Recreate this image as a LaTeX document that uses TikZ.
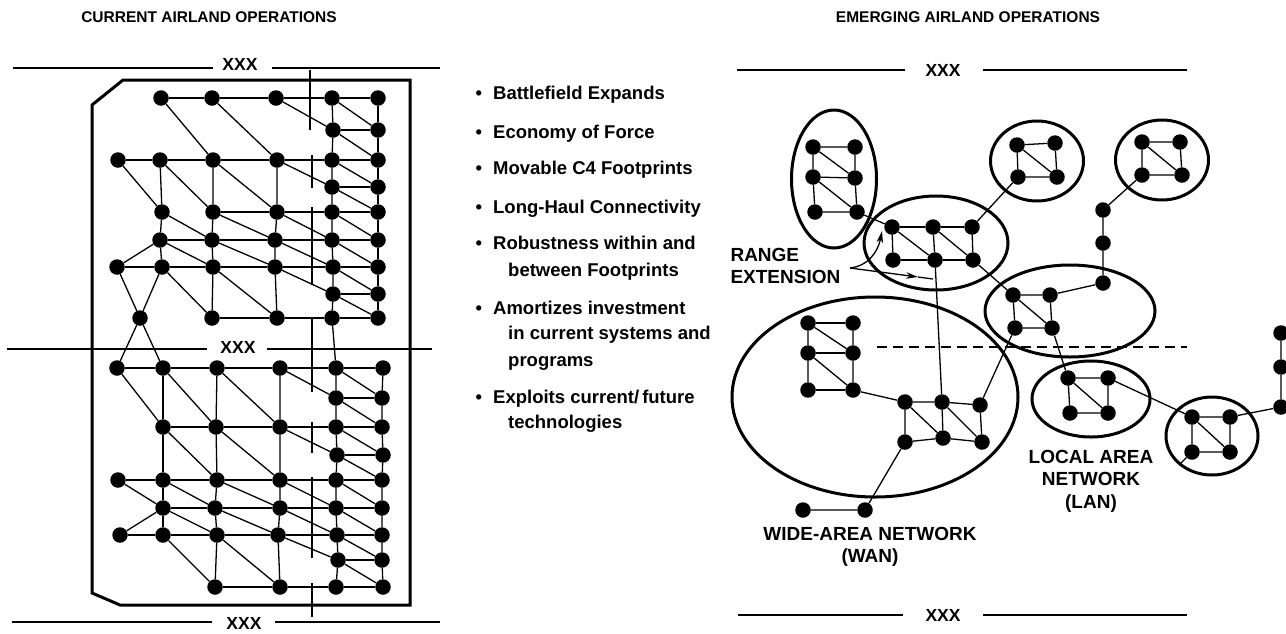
\documentclass[tikz,border=0pt]{standalone}
\usepackage{fontspec}
\setmainfont{Liberation Sans}
\usetikzlibrary{shapes,arrows,arrows.meta,positioning,calc}
\tikzset{
	dot/.style = {
		fill, 
		circle, 
		minimum size=15.5pt, 
		inner sep=0pt
	},
	link/.style = {
		line width=1.3pt
	},
	ring/.style = {
		draw, 
		ellipse, 
		line width=3pt, 
		inner sep=0pt
	},
	frame/.style = {
		line width=3pt, 
		line join=miter
	},
	boundary/.style = {
		line width=1.2pt
	},
	phaseline/.style = {
		line width=2pt, 
		dash pattern=on 10pt off 6pt
	},
	pointer/.style = {
		-{Stealth[length=12pt, width=6.5pt]}, 
		line width=1.3pt
	},
	title/.style = {
		font=\fontsize{15.5}{18}\selectfont\bfseries
	},
	xxx/.style = {
		font=\fontsize{17.5}{20}\selectfont\bfseries
	},
	item/.style = {
		font=\fontsize{18.5}{22}\selectfont\bfseries, 
		anchor=base west, 
		inner sep=0pt
	},
	callout/.style = {
		font=\fontsize{19}{22.5}\selectfont\bfseries, 
		align=center
	}
}

\begin{document}
\begin{tikzpicture}[x=1pt, y=-1pt]
	
	% --- Fondo ---
	\path [use as bounding box, fill=white] (0,0) rectangle (1286,633);
	
	% --- TÍTULOS ---
	\node [title] (curtitle) at (209,17) {CURRENT AIRLAND OPERATIONS};
	\node [title] (emetitle) at (968,17) {EMERGING AIRLAND OPERATIONS};
	
	% --- Límites XXX (lado izquierdo) ---
	\node [xxx] (xxxtop) at (240,64) {XXX};
	\draw [boundary] (13,68) -- (213,68) (272,68) -- (440,68);
	\node [xxx] (xxxmid) at (238,347) {XXX};
	\draw [boundary] (7,349) -- (207,349) (267,349) -- (432,349);
	\node [xxx] (xxxbot) at (244,623) {XXX};
	\draw [boundary] (12,622) -- (212,622) (275,622) -- (440,622);
	
	% Límite vertical cortado
	\foreach \ya/\yb/\xv in {70/130/310, 155/188/312, 207/285/312, 318/392/312,
		422/453/312, 477/558/312, 583/617/312}
		\draw [boundary] (\xv,\ya) -- (\xv,\yb);
	
	% Marco grueso del sector
	\draw [frame] (92,105) -- (123,80) -- (410,80) -- (410,605) -- (120,605) -- (92,593) -- cycle;
	
	% --- Malla actual (mitad superior) ---
	\foreach \c/\x in {2/161,3/212,4/276,5/332,6/378} \node [dot] (a\c) at (\x,98) {};
	\foreach \c/\x in {5/333,6/378} \node [dot] (b\c) at (\x,130) {};
	\foreach \c/\x in {1/118,2/160,3/213,4/277,5/332,6/378} \node [dot] (c\c) at (\x,160) {};
	\foreach \c/\x in {5/332,6/378} \node [dot] (d\c) at (\x,187) {};
	\foreach \c/\x in {2/162,3/213,4/277,5/332,6/378} \node [dot] (e\c) at (\x,212) {};
	\foreach \c/\x in {2/160,3/212,4/275,5/332,6/378} \node [dot] (f\c) at (\x,240) {};
	\foreach \c/\x in {1/117,2/162,3/213,4/275,5/333,6/378} \node [dot] (g\c) at (\x,267) {};
	\foreach \c/\x in {5/333,6/378} \node [dot] (h\c) at (\x,294) {};
	\foreach \c/\x in {3/212,4/277,5/332,6/378} \node [dot] (i\c) at (\x,318) {};
	\node [dot] (mid) at (140,318) {};
	
	% --- Malla actual (mitad inferior) ---
	\foreach \c/\x in {1/117,2/163,3/217,4/280,5/336,6/383} \node [dot] (j\c) at (\x,368) {};
	\foreach \c/\x in {5/336,6/382} \node [dot] (k\c) at (\x,398) {};
	\foreach \c/\x in {2/163,3/216,4/280,5/336,6/382} \node [dot] (l\c) at (\x,427) {};
	\foreach \c/\x in {5/337,6/383} \node [dot] (m\c) at (\x,455) {};
	\foreach \c/\x in {1/118,2/163,3/217,4/280,5/336,6/382} \node [dot] (n\c) at (\x,480) {};
	\foreach \c/\x in {2/163,3/215,4/280,5/336,6/382} \node [dot] (o\c) at (\x,508) {};
	\foreach \c/\x in {1/120,2/163,3/217,4/278,5/337,6/382} \node [dot] (p\c) at (\x,535) {};
	\foreach \c/\x in {5/338,6/382} \node [dot] (q\c) at (\x,560) {};
	\foreach \c/\x in {3/215,4/280,5/336,6/383} \node [dot] (r\c) at (\x,587) {};
	
	% Enlaces horizontales
	\draw [link] (a2) -- (a3) -- (a4) -- (a5) -- (a6);
	\draw [link] (c1) -- (c2) -- (c3) -- (c4) -- (c5) -- (c6);
	\draw [link] (e3) -- (e4) -- (e5) -- (e6);
	\draw [link] (f2) -- (f3) -- (f4) -- (f5) -- (f6);
	\draw [link] (g1) -- (g2) -- (g3) -- (g4) -- (g5) -- (g6);
	\draw [link] (i3) -- (i4) -- (i5) -- (i6);
	\draw [link] (j1) -- (j2) -- (j3) -- (j4) -- (j5) -- (j6);
	\draw [link] (l2) -- (l3) -- (l4) -- (l5) -- (l6);
	\draw [link] (n1) -- (n2) -- (n3) -- (n4) -- (n5) -- (n6);
	\draw [link] (o2) -- (o3) -- (o4) -- (o5) -- (o6);
	\draw [link] (p1) -- (p2) -- (p3) -- (p4) -- (p5) -- (p6);
	\draw [link] (r3) -- (r4) -- (r5) -- (r6);
	\foreach \r in {b,d,h,k,m,q} \draw [link] (\r5) -- (\r6);
	
	% Enlaces verticales
	\draw [link] (c2) -- (e2) -- (f2) -- (g2);
	\draw [link] (c3) -- (e3) -- (f3) -- (g3) -- (i3);
	\draw [link] (c4) -- (e4) -- (f4) -- (g4) -- (i4);
	\draw [link] (j2) -- (l2) -- (n2) -- (o2) -- (p2);
	\draw [link] (j3) -- (l3) -- (n3) -- (o3) -- (p3) -- (r3);
	\draw [link] (j4) -- (l4) -- (n4) -- (o4) -- (p4) -- (r4);
	\draw [link] (a5) -- (b5) -- (c5) -- (d5) -- (e5) -- (f5) -- (g5) -- (h5) -- (i5)
		-- (j5) -- (k5) -- (l5) -- (m5) -- (n5) -- (o5) -- (p5) -- (q5) -- (r5);
	\draw [link] (a6) -- (b6) -- (c6) -- (d6) -- (e6) -- (f6) -- (g6) -- (h6) -- (i6);
	\draw [link] (j6) -- (k6) -- (l6) -- (m6) -- (n6) -- (o6) -- (p6) -- (q6) -- (r6);
	
	% Enlaces diagonales
	\foreach \u/\v in {a2/c3, a3/c4, a4/b5, a5/b6, b5/c6, c1/e2, c2/e3, c3/e4, c4/d5,
		c5/d6, d5/e6, e2/f3, e3/f4, e4/f5, e5/f6, f2/g1, f2/g3, f3/g4, f4/g5, f5/g6,
		g1/mid, g2/mid, g2/i3, g3/i4, g4/h5, g5/h6, h5/i6, mid/j1, mid/j2,
		j1/l2, j2/l3, j3/l4, j4/k5, j5/k6, k5/l6, l2/n3, l3/n4, l4/m5, l5/m6, m5/n6,
		n1/o2, n2/o3, n3/o4, n4/o5, n5/o6, o2/p1, o2/p3, o3/p4, o4/p5, o5/p6,
		p2/r3, p3/r4, p4/q5, p5/q6, q5/r6}
		\draw [link] (\u) -- (\v);
	
	% --- Lista de ventajas ---
	\node [item] (it1) at (493,99) {\llap{\textbullet\hspace{11pt}}Battlefield Expands};
	\node [item] (it2) at (493,138) {\llap{\textbullet\hspace{11pt}}Economy of Force};
	\node [item] (it3) at (493,174) {\llap{\textbullet\hspace{11pt}}Movable C4 Footprints};
	\node [item] (it4) at (493,213) {\llap{\textbullet\hspace{11pt}}Long-Haul Connectivity};
	\node [item] (it5) at (493,249) {\llap{\textbullet\hspace{11pt}}Robustness within and};
	\node [item] (it5b) at (508,276) {between Footprints};
	\node [item] (it6) at (493,314) {\llap{\textbullet\hspace{11pt}}Amortizes investment};
	\node [item] (it6b) at (508,339) {in current systems and};
	\node [item] (it6c) at (508,366) {programs};
	\node [item] (it7) at (493,403) {\llap{\textbullet\hspace{11pt}}Exploits current/\,future};
	\node [item] (it7b) at (508,428) {technologies};
	
	% --- Límites XXX (lado derecho) ---
	\node [xxx] (xxxnorth) at (943,70) {XXX};
	\draw [boundary] (737,70) -- (905,70) (983,70) -- (1187,70);
	\node [xxx] (xxxsouth) at (943,615) {XXX};
	\draw [boundary] (738,615) -- (903,615) (983,615) -- (1187,615);
	
	% Línea discontinua de fase
	\coordinate (phw) at (877,347);
	\coordinate (phe) at (1187,347);
	\draw [phaseline] (phw) -- (phe);
	
	% --- Huellas (elipses) ---
	\node [ring, minimum width=85pt, minimum height=138pt] (tallring) at (834,179) {};
	\node [ring, minimum width=144pt, minimum height=94pt] (rxring) at (936,243) {};
	\node [ring, minimum width=93pt, minimum height=80pt] (taring) at (1037,161) {};
	\node [ring, minimum width=93pt, minimum height=80pt] (tbring) at (1162,160) {};
	\node [ring, minimum width=170pt, minimum height=92pt] (mcring) at (1070,311) {};
	\node [ring, minimum width=286pt, minimum height=200pt] (wanring) at (875,397) {};
	\node [ring, minimum width=118pt, minimum height=76pt] (lanring) at (1091,399) {};
	\node [ring, minimum width=92pt, minimum height=78pt] (sering) at (1212,436) {};
	
	% --- Nodos de la red emergente ---
	\foreach \n/\x/\y in {tw1/813/147, tw2/855/147, tw3/813/177, tw4/855/178, tw5/815/212, tw6/857/212,
		rx1/892/227, rx2/933/227, rx3/972/227, rx4/893/260, rx5/935/260, rx6/973/260,
		ta1/1017/145, ta2/1055/143, ta3/1018/177, ta4/1057/177,
		tb1/1142/142, tb2/1180/142, tb3/1142/175, tb4/1182/175,
		rl1/1103/210, rl2/1103/243, rl3/1103/283,
		mc1/1013/295, mc2/1050/295, mc3/1015/328, mc4/1052/328,
		wa1/808/323, wa2/853/323, wa3/808/353, wa4/853/353, wa5/808/390, wa6/853/390,
		wb1/905/402, wb2/942/402, wb3/980/405, wb4/905/442, wb5/943/438, wb6/982/442,
		wt1/803/510, wt2/865/510,
		ln1/1068/378, ln2/1108/378, ln3/1070/413, ln4/1108/413,
		se1/1192/417, se2/1230/417, se3/1192/452, se4/1230/452,
		ed1/1281/333, ed2/1281/367, ed3/1281/407}
		\node [dot] (\n) at (\x,\y) {};
	\coordinate (sestub) at (1180,464);
	
	% Enlaces dentro de cada huella
	\draw [link] (tw1) -- (tw2) (tw3) -- (tw4) (tw5) -- (tw6);
	\draw [link] (tw1) -- (tw3) -- (tw5) (tw2) -- (tw4) -- (tw6) (tw1) -- (tw4) (tw3) -- (tw6);
	\draw [link] (rx1) -- (rx2) -- (rx3) (rx4) -- (rx5) -- (rx6);
	\draw [link] (rx1) -- (rx4) (rx2) -- (rx5) (rx3) -- (rx6) (rx1) -- (rx5) (rx2) -- (rx6);
	\draw [link] (ta1) -- (ta2) -- (ta4) -- (ta3) -- (ta1) -- (ta4);
	\draw [link] (tb1) -- (tb2) -- (tb4) -- (tb3) -- (tb1) -- (tb4);
	\draw [link] (mc1) -- (mc2) -- (mc4) -- (mc3) -- (mc1) -- (mc4);
	\draw [link] (wa1) -- (wa2) (wa3) -- (wa4) (wa5) -- (wa6);
	\draw [link] (wa1) -- (wa3) -- (wa5) (wa2) -- (wa4) -- (wa6) (wa1) -- (wa4) (wa3) -- (wa6);
	\draw [link] (wb1) -- (wb2) -- (wb3) (wb4) -- (wb5) -- (wb6);
	\draw [link] (wb1) -- (wb4) (wb2) -- (wb5) (wb3) -- (wb6) (wb1) -- (wb5) (wb2) -- (wb6);
	\draw [link] (ln1) -- (ln2) -- (ln4) -- (ln3) -- (ln1) -- (ln4);
	\draw [link] (se1) -- (se2) -- (se4) -- (se3) -- (se1) -- (se4);
	
	% Enlaces entre huellas
	\draw [link] (tw6) -- (rx1);
	\draw [link] (rx3) -- (ta3);
	\draw [link] (rx6) -- (mc1);
	\draw [link] (rx5) -- (wb2);
	\draw [link] (tb3) -- (rl1) -- (rl2) -- (rl3) -- (mc2);
	\draw [link] (mc4) -- (ln1);
	\draw [link] (mc3) -- (wb3);
	\draw [link] (wa6) -- (wb1);
	\draw [link] (wb4) -- (wt2) -- (wt1);
	\draw [link] (ln2) -- (se1);
	\draw [link] (se2) -- (ed3) -- (ed2) -- (ed1);
	\draw [link] (se3) -- (sestub);
	
	% --- Extensión de alcance ---
	\node [callout, align=left, anchor=west] (rangetxt) at (727,266) {RANGE\\EXTENSION};
	\coordinate (rgfoot) at (850,268);
	\coordinate (rgup) at (882,231);
	\coordinate (rgtip) at (918,277);
	\coordinate (rgend) at (933,279);
	\draw [pointer] (rgfoot) .. controls (868,266) and (878,252) .. (rgup);
	\draw [pointer] (rgfoot) -- (rgtip);
	\draw [link] (rgtip) -- (rgend);
	
	% --- Etiquetas de red ---
	\node [callout] (wantxt) at (870,547) {WIDE-AREA NETWORK\\(WAN)};
	\node [callout] (lantxt) at (1091,481) {LOCAL AREA\\NETWORK\\(LAN)};
	
\end{tikzpicture}
\end{document}
